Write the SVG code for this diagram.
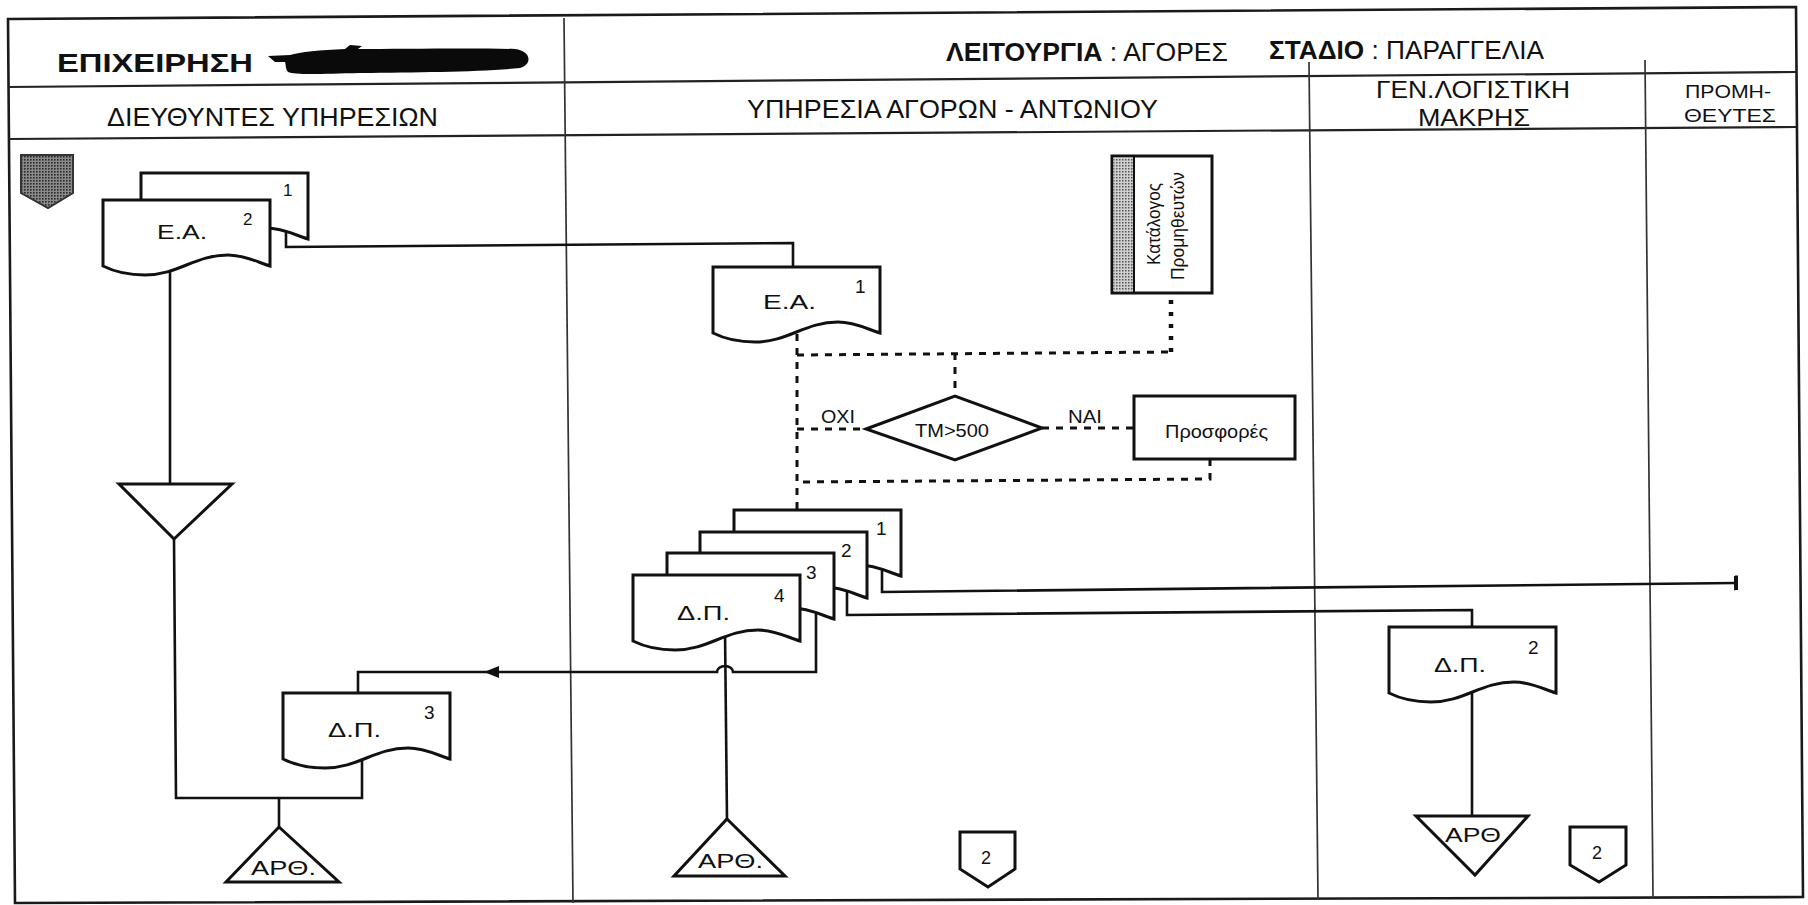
<svg xmlns="http://www.w3.org/2000/svg" width="1808" height="905" viewBox="0 0 1808 905">
<defs>
<style>
.frame{stroke:#1a1a1a;stroke-width:2.6;fill:none}
.hdr{stroke:#222;stroke-width:2.2;fill:none}
.div{stroke:#333;stroke-width:1.7;fill:none}
.node{fill:#fff;stroke:#111;stroke-width:3}
.conn{fill:none;stroke:#111;stroke-width:2.6}
.dash{fill:none;stroke:#111;stroke-width:3;stroke-dasharray:7 7}
.dot{fill:none;stroke:#111;stroke-width:4.5;stroke-dasharray:4 8}
text{font-family:"Liberation Sans",Arial,Helvetica,sans-serif;fill:#111}
.b{font-weight:bold}
</style>
<pattern id="shadeDark" width="3" height="3" patternUnits="userSpaceOnUse"><rect width="3" height="3" fill="#8a8a8a"/><rect width="1.6" height="1.6" fill="#2a2a2a"/></pattern>
<pattern id="shadeLight" width="3" height="3" patternUnits="userSpaceOnUse"><rect width="3" height="3" fill="#d0d0d0"/><rect width="1.5" height="1.5" fill="#555"/></pattern>
<path id="doc" d="M0,0 H167 V66 C154,62 142,55 125,55 C92,55 75,75 42,75 C20,75 8,70 0,66 Z"/>
<marker id="arr" markerWidth="16" markerHeight="12" refX="15" refY="6" orient="auto" markerUnits="userSpaceOnUse"><path d="M0,0 L15,6 L0,12 Z" fill="#111"/></marker>
<marker id="bar" markerWidth="4" markerHeight="15" refX="2" refY="7.5" orient="auto" markerUnits="userSpaceOnUse"><rect width="4" height="15" fill="#111"/></marker>
</defs>
<rect width="1808" height="905" fill="#fff"/>

<g id="frame">
<path class="frame" d="M8,19 L1796,7 L1803,897 L15,903 Z"/>
<line class="hdr" x1="8" y1="87" x2="1796" y2="72"/>
<line class="hdr" x1="8" y1="139" x2="1796" y2="127"/>
<line class="div" x1="564" y1="18" x2="573" y2="903"/>
<line class="div" x1="1309" y1="62" x2="1318" y2="899"/>
<line class="div" x1="1645" y1="60" x2="1653" y2="898"/>
</g>

<g id="header">
<text class="b" x="57" y="72" font-size="25" textLength="196" lengthAdjust="spacingAndGlyphs">ΕΠΙΧΕΙΡΗΣΗ</text>
<path d="M268,56 L290,55 C300,52 320,50 345,49 L350,45 L362,46 L358,49 C400,49 470,48 515,49 C531,51 533,64 520,68 C480,72 420,72 360,73 C320,74 295,75 288,72 C285,68 286,64 285,62 L275,62 Z" fill="#0a0a0a"/>
<text x="946" y="61" font-size="25" textLength="282" lengthAdjust="spacingAndGlyphs"><tspan font-weight="bold">ΛΕΙΤΟΥΡΓΙΑ</tspan> : ΑΓΟΡΕΣ</text>
<text x="1269" y="59" font-size="25" textLength="275" lengthAdjust="spacingAndGlyphs"><tspan font-weight="bold">ΣΤΑΔΙΟ</tspan> : ΠΑΡΑΓΓΕΛΙΑ</text>
<text x="107" y="126" font-size="26" textLength="331" lengthAdjust="spacingAndGlyphs">ΔΙΕΥΘΥΝΤΕΣ ΥΠΗΡΕΣΙΩΝ</text>
<text x="747" y="118" font-size="26" textLength="411" lengthAdjust="spacingAndGlyphs">ΥΠΗΡΕΣΙΑ ΑΓΟΡΩΝ - ΑΝΤΩΝΙΟΥ</text>
<text x="1376" y="98" font-size="24" textLength="194" lengthAdjust="spacingAndGlyphs">ΓΕΝ.ΛΟΓΙΣΤΙΚΗ</text>
<text x="1418" y="126" font-size="24" textLength="112" lengthAdjust="spacingAndGlyphs">ΜΑΚΡΗΣ</text>
<text x="1685" y="98" font-size="19" textLength="86" lengthAdjust="spacingAndGlyphs">ΠΡΟΜΗ-</text>
<text x="1684" y="122" font-size="19" textLength="92" lengthAdjust="spacingAndGlyphs">ΘΕΥΤΕΣ</text>
</g>

<g id="connectors">
<path class="conn" d="M286,225 V247 L793,243 V268"/>
<path class="conn" d="M170,250 V484"/>
<path class="conn" d="M174,539 L176,798 H362 V745"/>
<path class="conn" d="M279,798 V827"/>
<path class="conn" d="M725,630 L727,819"/>
<path class="conn" marker-end="url(#arr)" d="M816,600 V672 H733 A8 6 0 0 0 717,672 H484"/>
<path class="conn" d="M484,672 H358 V693"/>
<path class="conn" marker-end="url(#bar)" d="M882,560 V592 L1736,583"/>
<path class="conn" d="M847,580 V615 L1472,610 V627"/>
<path class="conn" d="M1472,680 V816"/>
<path class="dash" d="M797,320 V510"/>
<path class="dash" d="M797,355 L1171,352"/>
<path class="dot" d="M1171,352 V293"/>
<path class="dash" d="M955,353 V396"/>
<path class="dash" d="M797,429 H866"/>
<path class="dash" d="M1042,428 H1134"/>
<path class="dash" d="M1210,459 V479 L797,482"/>
<text x="821" y="423" font-size="18" textLength="34" lengthAdjust="spacingAndGlyphs">ΟΧΙ</text>
<text x="1068" y="423" font-size="18" textLength="34" lengthAdjust="spacingAndGlyphs">ΝΑΙ</text>
</g>

<g id="n-offpage-start">
<path d="M21,155 H73 V193 L48,208 L21,193 Z" fill="url(#shadeDark)" stroke="#333" stroke-width="2"/>
</g>

<g id="n-ea-left">
<use href="#doc" class="node" x="141" y="173"/>
<use href="#doc" class="node" x="103" y="200"/>
<text x="283" y="196" font-size="17">1</text>
<text x="243" y="225" font-size="17">2</text>
<text x="157" y="239" font-size="21" textLength="50" lengthAdjust="spacingAndGlyphs">Ε.Α.</text>
</g>

<g id="n-file-left">
<path class="node" d="M119,484 H232 L174,539 Z"/>
</g>

<g id="n-dp3">
<use href="#doc" class="node" x="283" y="693"/>
<text x="328" y="737" font-size="21" textLength="53" lengthAdjust="spacingAndGlyphs">Δ.Π.</text>
<text x="424" y="719" font-size="19">3</text>
</g>

<g id="n-artho-left">
<path class="node" d="M279,827 L339,882 H226 Z"/>
<text x="251" y="875" font-size="21" textLength="65" lengthAdjust="spacingAndGlyphs">ΑΡΘ.</text>
</g>

<g id="n-ea-mid">
<use href="#doc" class="node" x="713" y="267"/>
<text x="763" y="309" font-size="21" textLength="53" lengthAdjust="spacingAndGlyphs">Ε.Α.</text>
<text x="855" y="293" font-size="19">1</text>
</g>

<g id="n-katalogos">
<rect class="node" x="1112" y="156" width="100" height="137"/>
<rect x="1113.5" y="157.5" width="21" height="134" fill="url(#shadeLight)"/>
<line x1="1134" y1="156" x2="1134" y2="293" stroke="#111" stroke-width="2"/>
<text transform="translate(1160,265) rotate(-90)" x="0" y="0" font-size="18" textLength="82" lengthAdjust="spacingAndGlyphs">Κατάλογος</text>
<text transform="translate(1184,280) rotate(-90)" x="0" y="0" font-size="18" textLength="108" lengthAdjust="spacingAndGlyphs">Προμηθευτών</text>
</g>

<g id="n-decision">
<path class="node" d="M866,429 L955,396 L1042,428 L955,460 Z"/>
<text x="915" y="437" font-size="18" textLength="74" lengthAdjust="spacingAndGlyphs">ΤΜ&gt;500</text>
</g>

<g id="n-prosfores">
<rect class="node" x="1134" y="396" width="161" height="63"/>
<text x="1165" y="438" font-size="19" textLength="103" lengthAdjust="spacingAndGlyphs">Προσφορές</text>
</g>

<g id="n-dp-stack">
<use href="#doc" class="node" x="734" y="510"/>
<use href="#doc" class="node" x="700" y="532"/>
<use href="#doc" class="node" x="667" y="553"/>
<use href="#doc" class="node" x="633" y="575"/>
<text x="876" y="535" font-size="19">1</text>
<text x="841" y="557" font-size="19">2</text>
<text x="806" y="579" font-size="19">3</text>
<text x="774" y="602" font-size="19">4</text>
<text x="677" y="620" font-size="21" textLength="53" lengthAdjust="spacingAndGlyphs">Δ.Π.</text>
</g>

<g id="n-artho-mid">
<path class="node" d="M727,819 L785,876 H674 Z"/>
<text x="698" y="868" font-size="21" textLength="65" lengthAdjust="spacingAndGlyphs">ΑΡΘ.</text>
</g>

<g id="n-offpage-mid">
<path class="node" d="M960,832 H1015 V869 L988,887 L960,869 Z"/>
<text x="986" y="864" font-size="18" text-anchor="middle">2</text>
</g>

<g id="n-dp2">
<use href="#doc" class="node" x="1389" y="627"/>
<text x="1434" y="672" font-size="21" textLength="52" lengthAdjust="spacingAndGlyphs">Δ.Π.</text>
<text x="1528" y="654" font-size="19">2</text>
</g>

<g id="n-artho-right">
<path class="node" d="M1416,816 H1528 L1475,875 Z"/>
<text x="1445" y="842" font-size="21" textLength="56" lengthAdjust="spacingAndGlyphs">ΑΡΘ</text>
</g>

<g id="n-offpage-right">
<path class="node" d="M1570,827 H1626 V865 L1599,882 L1570,865 Z"/>
<text x="1597" y="859" font-size="18" text-anchor="middle">2</text>
</g>
</svg>
